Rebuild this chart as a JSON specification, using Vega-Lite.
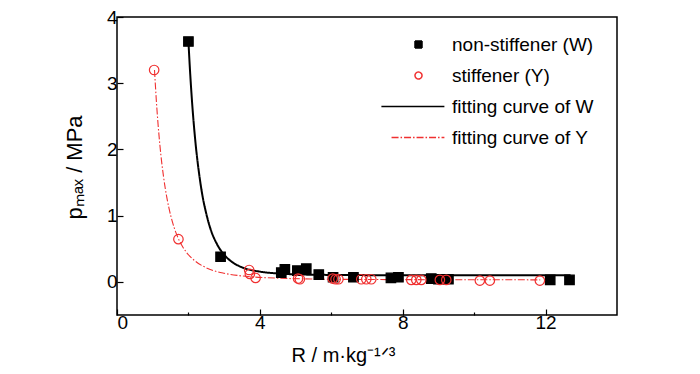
{
  "$schema": "https://vega.github.io/schema/vega-lite/v6.json",
  "width": 500,
  "height": 298,
  "autosize": "none",
  "padding": {"left": 117, "top": 17, "right": 83, "bottom": 59},
  "background": "white",
  "config": {
    "font": "Liberation Sans",
    "view": {"stroke": "black", "strokeWidth": 1.5},
    "axis": {
      "domain": false,
      "grid": false,
      "tickColor": "black",
      "tickWidth": 1.2,
      "labelColor": "black",
      "labelFontSize": 19,
      "labelFont": "Liberation Sans",
      "titleFont": "Liberation Sans",
      "titleFontSize": 20,
      "titleFontWeight": "normal",
      "titleColor": "black"
    },
    "legend": {"labelFont": "Liberation Sans"}
  },
  "data": {
    "values": [
      {"series": "non-stiffener (W)", "kind": "pt", "R": 2.0, "p": 3.63},
      {"series": "non-stiffener (W)", "kind": "pt", "R": 2.9, "p": 0.38},
      {"series": "non-stiffener (W)", "kind": "pt", "R": 4.6, "p": 0.14},
      {"series": "non-stiffener (W)", "kind": "pt", "R": 4.7, "p": 0.19},
      {"series": "non-stiffener (W)", "kind": "pt", "R": 5.05, "p": 0.17},
      {"series": "non-stiffener (W)", "kind": "pt", "R": 5.3, "p": 0.2},
      {"series": "non-stiffener (W)", "kind": "pt", "R": 5.65, "p": 0.11},
      {"series": "non-stiffener (W)", "kind": "pt", "R": 6.05, "p": 0.07},
      {"series": "non-stiffener (W)", "kind": "pt", "R": 6.62, "p": 0.07},
      {"series": "non-stiffener (W)", "kind": "pt", "R": 7.67, "p": 0.06},
      {"series": "non-stiffener (W)", "kind": "pt", "R": 7.88, "p": 0.07},
      {"series": "non-stiffener (W)", "kind": "pt", "R": 8.8, "p": 0.05},
      {"series": "non-stiffener (W)", "kind": "pt", "R": 9.0, "p": 0.04},
      {"series": "non-stiffener (W)", "kind": "pt", "R": 9.28, "p": 0.04},
      {"series": "non-stiffener (W)", "kind": "pt", "R": 12.13, "p": 0.03},
      {"series": "non-stiffener (W)", "kind": "pt", "R": 12.67, "p": 0.03},
      {"series": "stiffener (Y)", "kind": "pt", "R": 1.04, "p": 3.2},
      {"series": "stiffener (Y)", "kind": "pt", "R": 1.72, "p": 0.645},
      {"series": "stiffener (Y)", "kind": "pt", "R": 3.7, "p": 0.18},
      {"series": "stiffener (Y)", "kind": "pt", "R": 3.72, "p": 0.12},
      {"series": "stiffener (Y)", "kind": "pt", "R": 3.88, "p": 0.06},
      {"series": "stiffener (Y)", "kind": "pt", "R": 5.07, "p": 0.05},
      {"series": "stiffener (Y)", "kind": "pt", "R": 5.12, "p": 0.04},
      {"series": "stiffener (Y)", "kind": "pt", "R": 6.04, "p": 0.05},
      {"series": "stiffener (Y)", "kind": "pt", "R": 6.12, "p": 0.04},
      {"series": "stiffener (Y)", "kind": "pt", "R": 6.2, "p": 0.04},
      {"series": "stiffener (Y)", "kind": "pt", "R": 6.84, "p": 0.04},
      {"series": "stiffener (Y)", "kind": "pt", "R": 6.98, "p": 0.04},
      {"series": "stiffener (Y)", "kind": "pt", "R": 7.12, "p": 0.04},
      {"series": "stiffener (Y)", "kind": "pt", "R": 8.24, "p": 0.03},
      {"series": "stiffener (Y)", "kind": "pt", "R": 8.38, "p": 0.03},
      {"series": "stiffener (Y)", "kind": "pt", "R": 8.52, "p": 0.03},
      {"series": "stiffener (Y)", "kind": "pt", "R": 9.04, "p": 0.03},
      {"series": "stiffener (Y)", "kind": "pt", "R": 9.22, "p": 0.03},
      {"series": "stiffener (Y)", "kind": "pt", "R": 10.16, "p": 0.02},
      {"series": "stiffener (Y)", "kind": "pt", "R": 10.44, "p": 0.02},
      {"series": "stiffener (Y)", "kind": "pt", "R": 11.84, "p": 0.02},
      {"series": "fitting curve of W", "kind": "fit", "R": 2.0, "p": 3.63},
      {"series": "fitting curve of W", "kind": "fit", "R": 2.05, "p": 3.14},
      {"series": "fitting curve of W", "kind": "fit", "R": 2.1, "p": 2.73},
      {"series": "fitting curve of W", "kind": "fit", "R": 2.2, "p": 2.09},
      {"series": "fitting curve of W", "kind": "fit", "R": 2.3, "p": 1.63},
      {"series": "fitting curve of W", "kind": "fit", "R": 2.4, "p": 1.28},
      {"series": "fitting curve of W", "kind": "fit", "R": 2.5, "p": 1.03},
      {"series": "fitting curve of W", "kind": "fit", "R": 2.6, "p": 0.83},
      {"series": "fitting curve of W", "kind": "fit", "R": 2.8, "p": 0.57},
      {"series": "fitting curve of W", "kind": "fit", "R": 3.0, "p": 0.41},
      {"series": "fitting curve of W", "kind": "fit", "R": 3.25, "p": 0.29},
      {"series": "fitting curve of W", "kind": "fit", "R": 3.5, "p": 0.22},
      {"series": "fitting curve of W", "kind": "fit", "R": 4.0, "p": 0.155},
      {"series": "fitting curve of W", "kind": "fit", "R": 4.5, "p": 0.127},
      {"series": "fitting curve of W", "kind": "fit", "R": 5.0, "p": 0.114},
      {"series": "fitting curve of W", "kind": "fit", "R": 6.0, "p": 0.105},
      {"series": "fitting curve of W", "kind": "fit", "R": 7.0, "p": 0.102},
      {"series": "fitting curve of W", "kind": "fit", "R": 8.0, "p": 0.101},
      {"series": "fitting curve of W", "kind": "fit", "R": 10.0, "p": 0.1},
      {"series": "fitting curve of W", "kind": "fit", "R": 12.7, "p": 0.1},
      {"series": "fitting curve of Y", "kind": "fit", "R": 1.05, "p": 3.2},
      {"series": "fitting curve of Y", "kind": "fit", "R": 1.1, "p": 2.75},
      {"series": "fitting curve of Y", "kind": "fit", "R": 1.2, "p": 2.07},
      {"series": "fitting curve of Y", "kind": "fit", "R": 1.3, "p": 1.6},
      {"series": "fitting curve of Y", "kind": "fit", "R": 1.4, "p": 1.26},
      {"series": "fitting curve of Y", "kind": "fit", "R": 1.5, "p": 1.01},
      {"series": "fitting curve of Y", "kind": "fit", "R": 1.6, "p": 0.82},
      {"series": "fitting curve of Y", "kind": "fit", "R": 1.72, "p": 0.652},
      {"series": "fitting curve of Y", "kind": "fit", "R": 1.85, "p": 0.52},
      {"series": "fitting curve of Y", "kind": "fit", "R": 2.0, "p": 0.41},
      {"series": "fitting curve of Y", "kind": "fit", "R": 2.2, "p": 0.31},
      {"series": "fitting curve of Y", "kind": "fit", "R": 2.4, "p": 0.24},
      {"series": "fitting curve of Y", "kind": "fit", "R": 2.7, "p": 0.17},
      {"series": "fitting curve of Y", "kind": "fit", "R": 3.0, "p": 0.13},
      {"series": "fitting curve of Y", "kind": "fit", "R": 3.4, "p": 0.096},
      {"series": "fitting curve of Y", "kind": "fit", "R": 3.8, "p": 0.075},
      {"series": "fitting curve of Y", "kind": "fit", "R": 4.5, "p": 0.056},
      {"series": "fitting curve of Y", "kind": "fit", "R": 5.5, "p": 0.043},
      {"series": "fitting curve of Y", "kind": "fit", "R": 7.0, "p": 0.036},
      {"series": "fitting curve of Y", "kind": "fit", "R": 9.0, "p": 0.033},
      {"series": "fitting curve of Y", "kind": "fit", "R": 11.85, "p": 0.031}
    ]
  },
  "encoding": {
    "x": {
      "field": "R",
      "type": "quantitative",
      "scale": {"domain": [0, 14], "nice": false, "zero": false},
      "axis": {
        "title": "R / m·kg⁻¹ᐟ³",
        "values": [0, 2, 4, 6, 8, 10, 12],
        "format": "d",
        "labelExpr": "datum.value % 4 === 0 ? datum.label : ''",
        "tickSize": {"condition": {"test": "datum.value % 4 === 0", "value": -6}, "value": -3},
        "labelPadding": 4,
        "titlePadding": 13,
        "titleX": 226
      }
    },
    "y": {
      "field": "p",
      "type": "quantitative",
      "scale": {"domain": [-0.5, 4], "nice": false, "zero": false},
      "axis": {
        "title": "pₘₐₓ / MPa",
        "titleFontSize": 22,
        "values": [0, 0.5, 1, 1.5, 2, 2.5, 3, 3.5, 4],
        "format": "d",
        "labelExpr": "datum.value % 1 === 0 ? datum.label : ''",
        "tickSize": {"condition": {"test": "datum.value % 1 === 0", "value": -6}, "value": -4},
        "labelPadding": 6,
        "titlePadding": 20,
        "titleY": 150
      }
    }
  },
  "layer": [
    {
      "transform": [{"filter": "datum.series === 'fitting curve of W'"}],
      "mark": {"type": "line", "interpolate": "monotone", "strokeWidth": 2},
      "encoding": {
        "stroke": {
          "field": "series",
          "type": "nominal",
          "scale": {
            "domain": ["non-stiffener (W)", "stiffener (Y)", "fitting curve of W", "fitting curve of Y"],
            "range": ["black", "#f03030", "black", "#f03030"]
          },
          "legend": {
            "title": null,
            "orient": "none",
            "legendX": 292,
            "legendY": 18,
            "labelFontSize": 19,
            "labelColor": "black",
            "labelLimit": 300,
            "labelOffset": 24,
            "symbolSize": 49,
            "symbolStrokeWidth": 1.5,
            "rowPadding": 11
          }
        },
        "strokeDash": {
          "field": "series",
          "type": "nominal",
          "scale": {
            "domain": ["non-stiffener (W)", "stiffener (Y)", "fitting curve of W", "fitting curve of Y"],
            "range": [[1, 0], [1, 0], [1, 0], [7, 2, 1.5, 2]]
          },
          "legend": {"title": null}
        }
      }
    },
    {
      "transform": [{"filter": "datum.series === 'fitting curve of Y'"}],
      "mark": {"type": "line", "interpolate": "monotone", "strokeWidth": 1.1},
      "encoding": {
        "stroke": {"field": "series", "type": "nominal"},
        "strokeDash": {"field": "series", "type": "nominal"}
      }
    },
    {
      "transform": [{"filter": "datum.kind === 'pt'"}],
      "mark": {"type": "point", "size": 90, "opacity": 1, "strokeWidth": 1.2},
      "encoding": {
        "shape": {
          "field": "series",
          "type": "nominal",
          "scale": {
            "domain": ["non-stiffener (W)", "stiffener (Y)", "fitting curve of W", "fitting curve of Y"],
            "range": ["square", "circle", "M-10.6,0L7.4,0", "M-7.7,0L7.4,0"]
          },
          "legend": {"title": null}
        },
        "fill": {
          "field": "series",
          "type": "nominal",
          "scale": {
            "domain": ["non-stiffener (W)", "stiffener (Y)", "fitting curve of W", "fitting curve of Y"],
            "range": ["black", "transparent", "transparent", "transparent"]
          },
          "legend": {"title": null}
        },
        "stroke": {"field": "series", "type": "nominal"}
      }
    }
  ]
}
